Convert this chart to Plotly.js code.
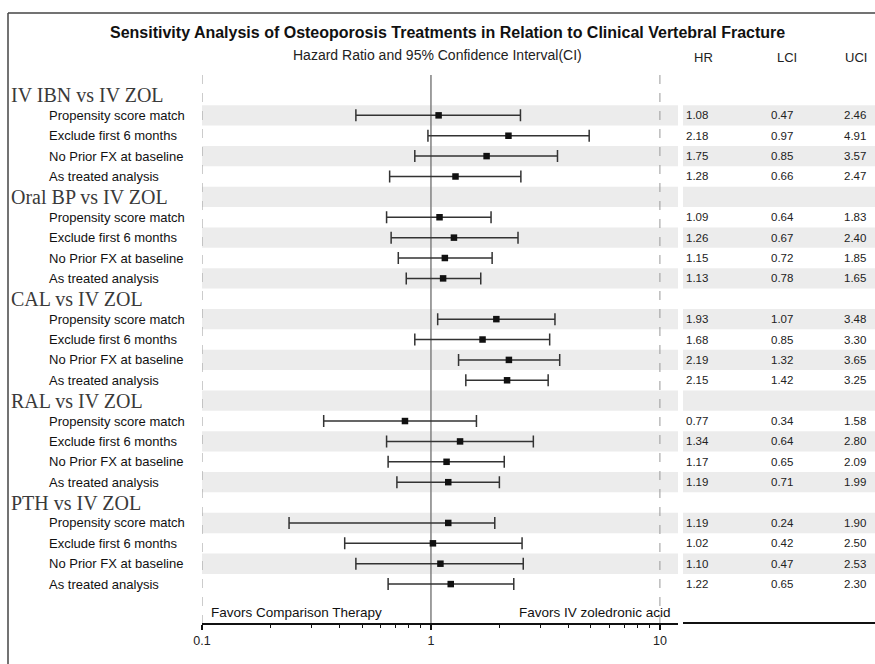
<!DOCTYPE html>
<html>
<head>
<meta charset="utf-8">
<script src="https://cdn.plot.ly/plotly-3.0.1.min.js"></script>
<style>html,body{margin:0;padding:0;background:#fff;}#chart{width:875px;height:664px;}</style>
</head>
<body>
<div id="chart"></div>
<script>
// ---- data ----
const groups = ["IV IBN vs IV ZOL", "Oral BP vs IV ZOL", "CAL vs IV ZOL", "RAL vs IV ZOL", "PTH vs IV ZOL"];
const analyses = ["Propensity score match", "Exclude first 6 months", "No Prior FX at baseline", "As treated analysis"];
const hrIBN = [1.08, 2.18, 1.75, 1.28];
const lciIBN = [0.47, 0.97, 0.85, 0.66];
const uciIBN = [2.46, 4.91, 3.57, 2.47];
const hrOral = [1.09, 1.26, 1.15, 1.13];
const lciOral = [0.64, 0.67, 0.72, 0.78];
const uciOral = [1.83, 2.40, 1.85, 1.65];
const hrCAL = [1.93, 1.68, 2.19, 2.15];
const lciCAL = [1.07, 0.85, 1.32, 1.42];
const uciCAL = [3.48, 3.30, 3.65, 3.25];
const hrRAL = [0.77, 1.34, 1.17, 1.19];
const lciRAL = [0.34, 0.64, 0.65, 0.71];
const uciRAL = [1.58, 2.80, 2.09, 1.99];
const hrPTH = [1.19, 1.02, 1.10, 1.22];
const lciPTH = [0.24, 0.42, 0.47, 0.65];
const uciPTH = [1.90, 2.50, 2.53, 2.30];
const xTickVals = [0.1, 1, 10];
const xTickText = ["0.1", "1", "10"];
const tableHeaders = ["HR", "LCI", "UCI"];

const hrAll = [hrIBN, hrOral, hrCAL, hrRAL, hrPTH];
const lciAll = [lciIBN, lciOral, lciCAL, lciRAL, lciPTH];
const uciAll = [uciIBN, uciOral, uciCAL, uciRAL, uciPTH];

// ---- layout helpers ----
const W = 875, H = 664;
const px = v => v / W;
const sans = "Liberation Sans, Arial, sans-serif";
const serif = "Liberation Serif, Times New Roman, serif";
const yTop = -0.98, yBot = 25.91;

const ptsX = [], ptsY = [], errP = [], errM = [];
const annotations = [];
const shapes = [];

function band(r) {
  shapes.push({type: 'rect', xref: 'paper', yref: 'y', x0: px(202), x1: px(678), y0: r - 0.5, y1: r + 0.5, fillcolor: '#ececec', line: {width: 0}, layer: 'below'});
  shapes.push({type: 'rect', xref: 'paper', yref: 'y', x0: px(683), x1: 1, y0: r - 0.5, y1: r + 0.5, fillcolor: '#ececec', line: {width: 0}, layer: 'below'});
}

let row = 0;
groups.forEach((g, gi) => {
  annotations.push({xref: 'paper', yref: 'y', x: px(9), y: row, text: g, showarrow: false,
    xanchor: 'left', yanchor: 'middle', font: {family: serif, size: 20, color: '#3a3a3a'}});
  if (row % 2 === 1) band(row);
  row++;
  analyses.forEach((a, ai) => {
    const hr = hrAll[gi][ai], l = lciAll[gi][ai], u = uciAll[gi][ai];
    ptsX.push(hr); ptsY.push(row); errP.push(u - hr); errM.push(hr - l);
    annotations.push({xref: 'paper', yref: 'y', x: px(47), y: row, text: a, showarrow: false,
      xanchor: 'left', yanchor: 'middle', font: {family: sans, size: 13, color: '#111'}});
    [[hr, 697], [l, 782], [u, 855]].forEach(([v, xp]) => {
      annotations.push({xref: 'paper', yref: 'y', x: px(xp), y: row, text: v.toFixed(2), showarrow: false,
        xanchor: 'center', yanchor: 'middle', font: {family: sans, size: 11.5, color: '#222'}});
    });
    if (row % 2 === 1) band(row);
    row++;
  });
});

// title and headers
annotations.push({xref: 'paper', yref: 'paper', x: px(447), y: 1 - 33 / H, text: '<b>Sensitivity Analysis of Osteoporosis Treatments in Relation to Clinical Vertebral Fracture</b>',
  showarrow: false, xanchor: 'center', yanchor: 'middle', font: {family: sans, size: 16, color: '#111'}});
annotations.push({xref: 'paper', yref: 'paper', x: px(437), y: 1 - 55 / H, text: 'Hazard Ratio and 95% Confidence Interval(CI)',
  showarrow: false, xanchor: 'center', yanchor: 'middle', font: {family: sans, size: 14, color: '#222'}});
[[703], [787], [856]].forEach(([xp], i) => {
  annotations.push({xref: 'paper', yref: 'paper', x: px(xp), y: 1 - 58 / H, text: tableHeaders[i],
    showarrow: false, xanchor: 'center', yanchor: 'middle', font: {family: sans, size: 13, color: '#222'}});
});
annotations.push({xref: 'paper', yref: 'paper', x: px(209), y: 1 - 612 / H, text: 'Favors Comparison Therapy',
  showarrow: false, xanchor: 'left', yanchor: 'middle', font: {family: sans, size: 13.5, color: '#111'}});
annotations.push({xref: 'paper', yref: 'paper', x: px(673), y: 1 - 612 / H, text: 'Favors IV zoledronic acid',
  showarrow: false, xanchor: 'right', yanchor: 'middle', font: {family: sans, size: 13.5, color: '#111'}});

// frame
shapes.push({type: 'line', xref: 'paper', yref: 'paper', x0: px(8), x1: 1.01, y0: 1 - 13 / H, y1: 1 - 13 / H, line: {color: '#444', width: 1.5}});
shapes.push({type: 'line', xref: 'paper', yref: 'paper', x0: px(8), x1: px(8), y0: 1 - 13 / H, y1: -0.01, line: {color: '#444', width: 1.5}});
// table axis line
shapes.push({type: 'line', xref: 'paper', yref: 'paper', x0: px(683), x1: 1, y0: 41 / H, y1: 41 / H, line: {color: '#111', width: 2}});

const traces = [
  {x: [0.1, 0.1], y: [yTop, yBot], mode: 'lines', line: {color: '#999', width: 1, dash: 'dash'}, hoverinfo: 'skip', showlegend: false},
  {x: [10, 10], y: [yTop, yBot], mode: 'lines', line: {color: '#999', width: 1, dash: 'dash'}, hoverinfo: 'skip', showlegend: false},
  {x: [1, 1], y: [yTop, yBot], mode: 'lines', line: {color: '#808080', width: 1.5}, hoverinfo: 'skip', showlegend: false},
  {x: ptsX, y: ptsY, mode: 'markers', type: 'scatter', showlegend: false,
    marker: {symbol: 'square', size: 6.5, color: '#111'},
    error_x: {type: 'data', symmetric: false, array: errP, arrayminus: errM, color: '#333', thickness: 1.5, width: 6}}
];

const minorVals = [];
[0.1, 1].forEach(d => { for (let k = 2; k <= 9; k++) minorVals.push(+(d * k).toFixed(2)); });

const layout = {
  width: W, height: H,
  margin: {l: 0, r: 0, t: 0, b: 0},
  paper_bgcolor: '#fff', plot_bgcolor: 'rgba(0,0,0,0)',
  showlegend: false,
  xaxis: {type: 'log', range: [-1, 1.079], domain: [px(202), px(678)],
    tickvals: xTickVals, ticktext: xTickText, ticks: 'outside', ticklen: 5, tickwidth: 1.5, tickcolor: '#111',
    showline: true, linewidth: 2, linecolor: '#111', showgrid: false, zeroline: false,
    tickfont: {family: sans, size: 12.5, color: '#222'},
    minor: {tickvals: minorVals, ticks: 'outside', ticklen: 3, tickwidth: 1, tickcolor: '#111', showgrid: false}},
  yaxis: {range: [yBot, yTop], domain: [41 / H, 1 - 75 / H], visible: false, showgrid: false, zeroline: false},
  annotations: annotations,
  shapes: shapes
};

Plotly.newPlot('chart', traces, layout, {staticPlot: true, displayModeBar: false});
</script>
</body>
</html>
